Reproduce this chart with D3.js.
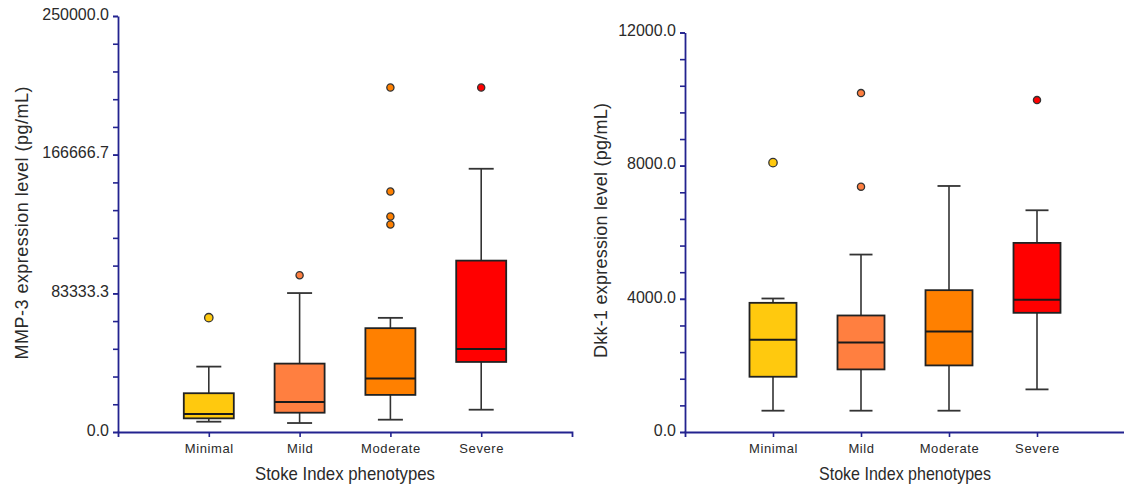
<!DOCTYPE html>
<html>
<head>
<meta charset="utf-8">
<script src="https://cdn.jsdelivr.net/npm/d3@7"></script>
<style>
  html, body { margin: 0; padding: 0; background: #fff; }
  svg { display: block; }
  .tick text { font-family: "Liberation Sans", Arial, sans-serif; fill: #2a2a2a; }
</style>
</head>
<body>
<svg id="chart" width="1124" height="489"></svg>
<script>
// Stoke Index phenotype groups
const categories = ["Minimal", "Mild", "Moderate", "Severe"];
const boxColors = ["#FFC90E", "#FF7F40", "#FF8000", "#FF0000"];

// MMP-3 (pg/mL): whisker low, Q1, median, Q3, whisker high
const mmpLow    = [6200, 5400, 7400, 13400];
const mmpQ1     = [8200, 11600, 22300, 42100];
const mmpMedian = [10800, 18000, 32100, 49900];
const mmpQ3     = [23300, 41100, 62400, 103000];
const mmpHigh   = [39300, 83500, 68600, 158200];
const mmpOutliers = [[68700], [94200], [207000, 144500, 129500, 124700], [207000]];
const mmpTicks = [0, 83333.3, 166666.7, 250000];

// Dkk-1 (pg/mL): whisker low, Q1, median, Q3, whisker high
const dkkLow    = [640, 640, 640, 1280];
const dkkQ1     = [1660, 1880, 2000, 3580];
const dkkMedian = [2770, 2690, 3020, 3970];
const dkkQ3     = [3880, 3500, 4260, 5680];
const dkkHigh   = [4010, 5330, 7390, 6660];
const dkkOutliers = [[8090], [10180, 7370], [], [9970]];
const dkkTicks = [0, 4000, 8000, 12000];

const svg = d3.select("#chart");
const axisColor = "#23238f";

function drawPanel(cfg) {
  const g = svg.append("g");
  const y = d3.scaleLinear().domain([0, cfg.max]).range([cfg.bottom, cfg.top]);
  const x = d3.scalePoint().domain(categories).range([cfg.left, cfg.right]).padding(1);

  // minor ticks
  const yMinor = d3.axisLeft(y).tickValues(d3.range(0, cfg.max + 1e-6, cfg.max / 15))
    .tickSize(5).tickFormat("");
  g.append("g").attr("transform", `translate(${cfg.left},0)`).call(yMinor)
    .call(a => a.select(".domain").remove())
    .call(a => a.selectAll("line").attr("stroke", axisColor).attr("stroke-width", 1.6));

  // major ticks + labels
  const yAxis = d3.axisLeft(y).tickValues(cfg.ticks).tickSize(5).tickPadding(4)
    .tickFormat(d3.format(".1f")).tickSizeOuter(0);
  g.append("g").attr("transform", `translate(${cfg.left},0)`).call(yAxis)
    .call(a => a.select(".domain").attr("stroke", axisColor).attr("stroke-width", 1.8))
    .call(a => a.selectAll("line").attr("stroke", axisColor).attr("stroke-width", 1.6))
    .call(a => a.selectAll("text").attr("font-size", 16).attr("dy", "0.2em"));

  // x axis
  const xAxis = d3.axisBottom(x).tickSize(5).tickSizeOuter(5).tickPadding(7);
  g.append("g").attr("transform", `translate(0,${cfg.bottom})`).call(xAxis)
    .call(a => a.select(".domain").attr("stroke", axisColor).attr("stroke-width", 1.8))
    .call(a => a.selectAll("line").attr("stroke", axisColor).attr("stroke-width", 1.6))
    .call(a => a.selectAll("text").attr("font-size", 13).attr("letter-spacing", "0.6px")
      .attr("fill", "#2a2a2a"));

  const bw = cfg.boxWidth, cw = cfg.capWidth;
  const box = g.selectAll(".box").data(categories).join("g")
    .attr("transform", d => `translate(${x(d)},0)`);

  // whiskers
  box.append("line").attr("x1", 0).attr("x2", 0)
    .attr("y1", (d, i) => y(cfg.high[i])).attr("y2", (d, i) => y(cfg.q3[i]))
    .attr("stroke", "#333").attr("stroke-width", 1.6);
  box.append("line").attr("x1", 0).attr("x2", 0)
    .attr("y1", (d, i) => y(cfg.q1[i])).attr("y2", (d, i) => y(cfg.low[i]))
    .attr("stroke", "#333").attr("stroke-width", 1.6);
  box.append("line").attr("x1", -cw / 2).attr("x2", cw / 2)
    .attr("y1", (d, i) => y(cfg.high[i])).attr("y2", (d, i) => y(cfg.high[i]))
    .attr("stroke", "#333").attr("stroke-width", 1.8);
  box.append("line").attr("x1", -cw / 2).attr("x2", cw / 2)
    .attr("y1", (d, i) => y(cfg.low[i])).attr("y2", (d, i) => y(cfg.low[i]))
    .attr("stroke", "#333").attr("stroke-width", 1.8);

  // boxes
  box.append("rect").attr("x", -bw / 2).attr("width", bw)
    .attr("y", (d, i) => y(cfg.q3[i]))
    .attr("height", (d, i) => y(cfg.q1[i]) - y(cfg.q3[i]))
    .attr("fill", (d, i) => boxColors[i]).attr("stroke", "#222").attr("stroke-width", 1.8);
  box.append("line").attr("x1", -bw / 2).attr("x2", bw / 2)
    .attr("y1", (d, i) => y(cfg.median[i])).attr("y2", (d, i) => y(cfg.median[i]))
    .attr("stroke", "#1a1a1a").attr("stroke-width", 2);

  // outliers
  box.each(function (d, i) {
    d3.select(this).selectAll("circle").data(cfg.outliers[i]).join("circle")
      .attr("cx", 0).attr("cy", v => y(v)).attr("r", i === 0 ? 4.2 : 3.6)
      .attr("fill", boxColors[i]).attr("stroke", "#333").attr("stroke-width", 1.3);
  });

  // axis titles
  g.append("text")
    .attr("transform", `translate(${cfg.yTitleX},${cfg.yTitleY}) rotate(-90)`)
    .attr("text-anchor", "middle")
    .attr("font-family", "'Liberation Sans', Arial, sans-serif")
    .attr("font-size", 18).attr("fill", "#2a2a2a")
    .attr("textLength", cfg.yTitleLen).attr("lengthAdjust", "spacing")
    .text(cfg.yTitle);

  g.append("text")
    .attr("x", cfg.xTitleX).attr("y", 480)
    .attr("text-anchor", "middle")
    .attr("font-family", "'Liberation Sans Narrow', 'Arial Narrow', 'Liberation Sans', sans-serif")
    .attr("font-size", 18.5).attr("fill", "#2a2a2a")
    .attr("textLength", cfg.xTitleLen).attr("lengthAdjust", "spacingAndGlyphs")
    .text("Stoke Index phenotypes");
}

drawPanel({
  left: 118, right: 572, top: 16, bottom: 432, max: 250000, ticks: mmpTicks,
  low: mmpLow, q1: mmpQ1, median: mmpMedian, q3: mmpQ3, high: mmpHigh, outliers: mmpOutliers,
  boxWidth: 50, capWidth: 25,
  yTitle: "MMP-3 expression level (pg/mL)", yTitleX: 28, yTitleY: 223, yTitleLen: 273,
  xTitleX: 345, xTitleLen: 180
});

drawPanel({
  left: 685, right: 1125, top: 32.5, bottom: 432, max: 12000, ticks: dkkTicks,
  low: dkkLow, q1: dkkQ1, median: dkkMedian, q3: dkkQ3, high: dkkHigh, outliers: dkkOutliers,
  boxWidth: 47, capWidth: 23,
  yTitle: "Dkk-1 expression level (pg/mL)", yTitleX: 606.5, yTitleY: 230.5, yTitleLen: 255,
  xTitleX: 905, xTitleLen: 172
});
</script>
</body>
</html>
